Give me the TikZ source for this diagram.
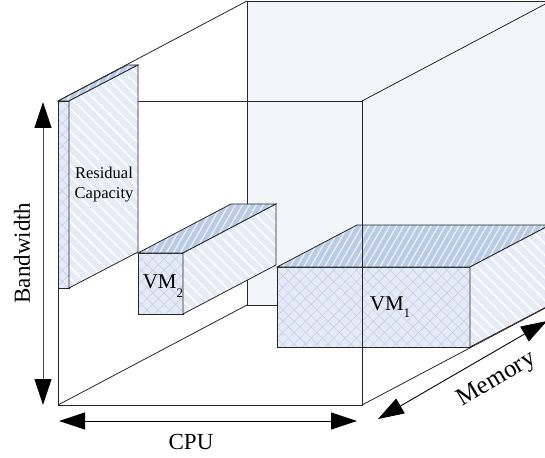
\documentclass[tikz,border=0pt]{standalone}
\usepackage{fontspec}
\setmainfont{Liberation Serif}
\usetikzlibrary{positioning,calc,arrows.meta,patterns.meta}
\definecolor{backblue}{HTML}{F2F6FB}
\definecolor{sideblue}{HTML}{E6ECF6}
\definecolor{topblue}{HTML}{B9CBE5}
\definecolor{frontblue}{HTML}{E4EBF6}
\definecolor{hatchblue}{HTML}{C3D1E9}
\tikzset{edge/.style={draw=black!85, line width=0.8pt}}
\tikzset{backface/.style={edge, fill=backblue}}
\tikzset{sideface/.style={edge, preaction={fill=sideblue}, pattern={Lines[angle=-45,distance=8pt,line width=1.5pt]}, pattern color=white}}
\tikzset{topface/.style={edge, preaction={fill=topblue}, pattern={Lines[angle=60,distance=6pt,line width=1.3pt]}, pattern color=white!75!topblue}}
\tikzset{frontface/.style={edge, preaction={fill=frontblue}, preaction={pattern={Lines[angle=45,distance=8pt,line width=0.6pt]}, pattern color=hatchblue}, pattern={Lines[angle=-45,distance=8pt,line width=0.6pt]}, pattern color=hatchblue}}
\tikzset{bigarr/.style={{Triangle[width=17pt,length=26pt,color=black]}-{Triangle[width=17pt,length=26pt,color=black]}, line width=0.9pt}}
\tikzset{axislabel/.style={font=\fontsize{23}{27}\selectfont, inner sep=0pt}}
\tikzset{vmlabel/.style={font=\fontsize{21}{24}\selectfont, inner sep=0pt}}
\newcommand{\vmsub}[2]{\raisebox{#2}{\fontsize{13}{13}\selectfont #1}}

\begin{document}
\begin{tikzpicture}[x=1pt,y=-1pt]
	\useasboundingbox (0,0) rectangle (545,457);
	\clip (0,0) rectangle (545,457);
	% cube corners
	\coordinate (ftl) at (58,101);
	\coordinate (ftr) at (362,101);
	\coordinate (fbl) at (58,405);
	\coordinate (fbr) at (362,405);
	\coordinate (btl) at ($(ftl)+(189,-100)$);
	\coordinate (btr) at ($(ftr)+(189,-100)$);
	\coordinate (bbl) at ($(fbl)+(189,-100)$);
	\coordinate (bbr) at ($(fbr)+(189,-100)$);
	\path[backface] (btl) rectangle (bbr);
	\draw[edge] (ftl) -- (btl) (ftr) -- (btr) (fbl) -- (bbl) (fbr) -- (bbr);
	\draw[edge] (ftl) rectangle (fbr);
	% residual capacity
	\coordinate (rc) at (69,101);
	\path[frontface] (ftl) rectangle (69,288);
	\path[topface] (ftl) -- ++(69,-36) -- ++(11,0) -- (rc) -- cycle;
	\path[sideface] (rc) -- ++(69,-36) -- ++(0,187) -- (69,288) -- cycle;
	\node[align=center, font=\fontsize{16.5}{20}\selectfont, inner sep=0pt] (res) at (104,185) {Residual\\Capacity};
	% VM2
	\coordinate (v2) at (138,253);
	\coordinate (v2r) at (183,253);
	\path[frontface] (v2) rectangle (183,314);
	\path[topface] (v2) -- ++(93,-49) -- ++(45,0) -- (v2r) -- cycle;
	\path[sideface] (v2r) -- ++(93,-49) -- ++(0,61) -- (183,314) -- cycle;
	\node[vmlabel, anchor=base] (vm2) at (163,288) {VM\vmsub{2}{-9pt}};
	% VM1
	\coordinate (v1) at (277,267);
	\coordinate (v1r) at (470,267);
	\path[frontface] (v1) rectangle (470,347);
	\path[topface] (v1) -- ++(80,-42) -- ++(193,0) -- (v1r) -- cycle;
	\path[sideface] (v1r) -- ++(80,-42) -- ++(0,80) -- (470,347) -- cycle;
	\draw[edge] (ftr) -- (fbr);
	\node[vmlabel, anchor=base] (vm1) at (390,310) {VM\vmsub{1}{-7pt}};
	% axes
	\coordinate (bwtop) at (43,102);
	\coordinate (bwbot) at (43,405);
	\coordinate (cpul) at (59,421);
	\coordinate (cpur) at (357,421);
	\coordinate (meml) at (378,419);
	\coordinate (memr) at (547,321);
	\draw[bigarr, draw=black!70] (bwtop) -- (bwbot);
	\draw[bigarr] (cpul) -- (cpur);
	\draw[bigarr] (meml) -- (memr);
	\node[axislabel, rotate=90] (bw) at (22,253) {Bandwidth};
	\node[axislabel, anchor=base] (cpu) at (191,449) {CPU};
	\node[axislabel, font=\fontsize{25}{29}\selectfont, rotate=31] (mem) at (497,380) {Memory};
\end{tikzpicture}
\end{document}
